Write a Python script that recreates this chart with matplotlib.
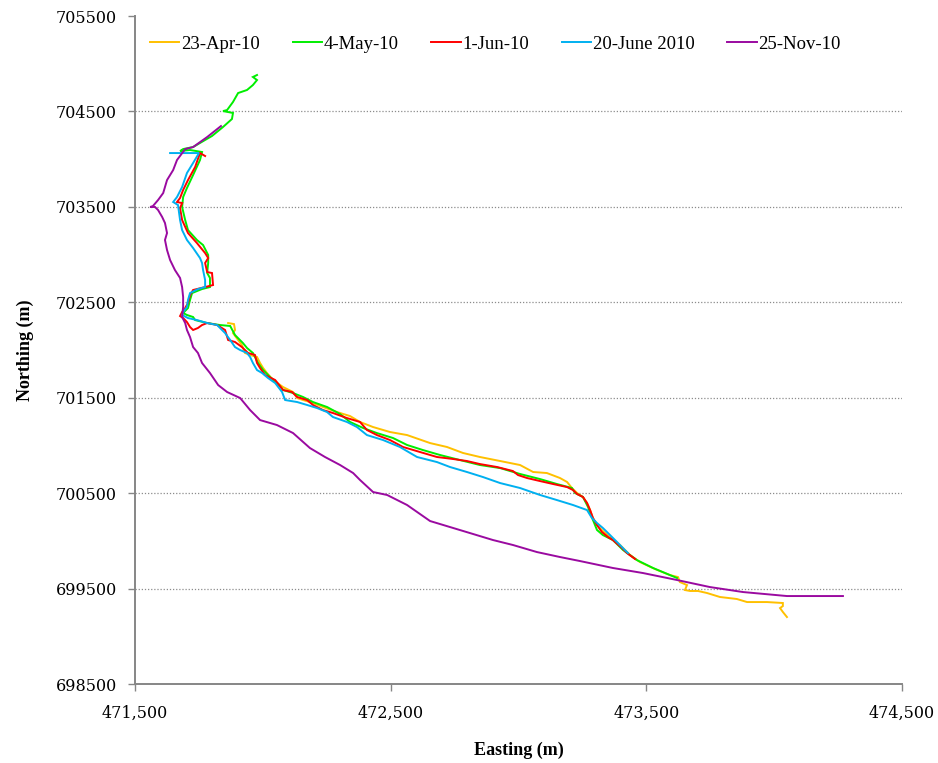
import matplotlib
matplotlib.use("Agg")
import matplotlib.pyplot as plt
from matplotlib.ticker import FuncFormatter, FixedLocator

# Shoreline positions (Easting, Northing in metres) for each survey date
labels = ["23-Apr-10", "4-May-10", "1-Jun-10", "20-June 2010", "25-Nov-10"]
colors = ["#FFC000", "#00EE00", "#FF0000", "#00B0F0", "#9A0AA0"]

apr_e = [471864, 471887, 471891, 471883, 471903, 471918, 471930, 471950, 471977, 471989,
         472001, 472016, 472040, 472079, 472118, 472134, 472157, 472196, 472235, 472290,
         472341, 472380, 472431, 472497, 472564, 472654, 472720, 472783, 472849, 472928,
         473006, 473057, 473111, 473162, 473190, 473209, 473229, 473252, 473268, 473280,
         473291, 473307, 473330, 473358, 473397, 473436, 473475, 473534, 473592, 473624,
         473631, 473659, 473651, 473671, 473702, 473737, 473788, 473854, 473894, 473944,
         473972, 474034, 474034, 474023, 474034, 474050]
apr_n = [702283, 702272, 702210, 702178, 702105, 702052, 701969, 701948, 701927, 701864,
         701811, 701759, 701686, 701612, 701560, 701497, 701476, 701445, 701403, 701350,
         701308, 701246, 701193, 701141, 701109, 701025, 700984, 700921, 700879, 700837,
         700795, 700722, 700711, 700659, 700617, 700554, 700502, 700460, 700397, 700323,
         700240, 700166, 700103, 700040, 699957, 699852, 699778, 699705, 699642, 699621,
         699569, 699537, 699485, 699475, 699475, 699454, 699412, 699391, 699359, 699359,
         699359, 699349, 699317, 699296, 699255, 699202]

may_e = [471977, 471961, 471977, 471961, 471938, 471903, 471883, 471860, 471844, 471883,
         471879, 471844, 471801, 471774, 471727, 471688, 471676, 471715, 471762, 471754,
         471727, 471703, 471688, 471684, 471696, 471707, 471742, 471766, 471786, 471786,
         471782, 471793, 471793, 471762, 471723, 471715, 471707, 471688, 471703, 471727,
         471735, 471782, 471832, 471872, 471891, 471922, 471938, 471961, 471981, 472001,
         472028, 472055, 472079, 472118, 472157, 472196, 472251, 472302, 472341, 472392,
         472446, 472509, 472564, 472626, 472693, 472771, 472849, 472928, 473006, 473084,
         473150, 473209, 473221, 473252, 473272, 473280, 473307, 473330, 473369, 473409,
         473463, 473526, 473620]
may_n = [704882, 704861, 704829, 704777, 704725, 704693, 704599, 704515, 704504, 704484,
         704421, 704337, 704243, 704201, 704127, 704106, 704085, 704096, 704075, 703991,
         703834, 703698, 703603, 703499, 703362, 703257, 703153, 703100, 702996, 702912,
         702807, 702755, 702660, 702639, 702597, 702524, 702440, 702388, 702367, 702346,
         702314, 702283, 702262, 702252, 702157, 702073, 702021, 701969, 701864, 701790,
         701717, 701654, 701581, 701549, 701508, 701455, 701403, 701329, 701246, 701183,
         701130, 701078, 701005, 700952, 700900, 700847, 700795, 700763, 700701, 700648,
         700596, 700554, 700502, 700460, 700355, 700292, 700114, 700061, 700009, 699904,
         699799, 699716, 699611]

jun_e = [471774, 471754, 471735, 471707, 471688, 471676, 471664, 471684, 471676, 471684,
         471707, 471742, 471774, 471786, 471774, 471782, 471801, 471805, 471774, 471727,
         471715, 471707, 471696, 471684, 471676, 471688, 471703, 471715, 471727, 471746,
         471762, 471782, 471821, 471852, 471864, 471891, 471918, 471942, 471969, 471977,
         471989, 472008, 472048, 472079, 472114, 472134, 472173, 472196, 472235, 472274,
         472329, 472380, 472407, 472446, 472497, 472548, 472615, 472681, 472744, 472798,
         472849, 472916, 472978, 472998, 473033, 473084, 473135, 473190, 473213, 473229,
         473252, 473268, 473280, 473291, 473307, 473326, 473350, 473369, 473405, 473424,
         473456]
jun_n = [704033, 704064, 703918, 703781, 703677, 703593, 703551, 703540, 703488, 703362,
         703226, 703121, 703016, 702964, 702912, 702817, 702807, 702681, 702660, 702629,
         702576, 702493, 702440, 702398, 702356, 702335, 702293, 702241, 702210, 702231,
         702262, 702283, 702262, 702210, 702105, 702084, 702031, 701969, 701948, 701864,
         701811, 701738, 701686, 701581, 701560, 701508, 701476, 701424, 701371, 701340,
         701287, 701246, 701162, 701109, 701057, 700984, 700931, 700879, 700858, 700837,
         700805, 700774, 700732, 700690, 700659, 700627, 700596, 700564, 700533, 700491,
         700460, 700397, 700323, 700240, 700166, 700093, 700040, 700009, 699925, 699873,
         699810]

june20_e = [471637, 471750, 471727, 471703, 471684, 471664, 471649, 471668, 471676, 471684,
            471703, 471727, 471754, 471762, 471766, 471774, 471774, 471746, 471715, 471707,
            471703, 471688, 471684, 471707, 471742, 471782, 471821, 471852, 471872, 471891,
            471911, 471938, 471950, 471961, 471977, 471997, 472020, 472048, 472075, 472087,
            472134, 472173, 472212, 472251, 472274, 472329, 472368, 472407, 472470, 472536,
            472603, 472681, 472732, 472798, 472861, 472928, 473006, 473084, 473150, 473213,
            473268, 473287, 473307, 473330, 473358, 473389, 473416, 473428]
june20_n = [704064, 704064, 703960, 703855, 703708, 703603, 703551, 703519, 703362, 703257,
            703153, 703069, 702964, 702912, 702838, 702733, 702660, 702639, 702597, 702524,
            702451, 702398, 702367, 702335, 702314, 702283, 702262, 702178, 702105, 702031,
            702000, 701969, 701927, 701864, 701790, 701759, 701707, 701654, 701560, 701476,
            701455, 701424, 701392, 701350, 701298, 701246, 701193, 701109, 701057, 700984,
            700879, 700826, 700774, 700722, 700669, 700606, 700554, 700481, 700428, 700376,
            700323, 700240, 700187, 700135, 700061, 699978, 699904, 699873]

nov_e = [471836, 471782, 471727, 471696, 471664, 471649, 471625, 471610, 471590, 471570,
         471559, 471578, 471590, 471606, 471617, 471625, 471617, 471625, 471637, 471656,
         471676, 471684, 471688, 471688, 471684, 471696, 471703, 471715, 471727, 471746,
         471762, 471793, 471825, 471860, 471911, 471950, 471989, 472055, 472118, 472184,
         472243, 472302, 472353, 472380, 472431, 472486, 472564, 472654, 472732, 472810,
         472900, 472978, 473072, 473162, 473240, 473369, 473487, 473620, 473749, 473878,
         474050, 474269]
nov_n = [704347, 704232, 704127, 704106, 703991, 703886, 703781, 703645, 703572, 703509,
         703499, 703499, 703467, 703394, 703331, 703226, 703153, 703048, 702943, 702838,
         702755, 702660, 702555, 702451, 702346, 702283, 702210, 702136, 702031, 701969,
         701864, 701759, 701633, 701560, 701497, 701371, 701266, 701214, 701130, 700973,
         700879, 700795, 700711, 700638, 700512, 700481, 700376, 700208, 700145, 700082,
         700009, 699957, 699883, 699831, 699789, 699716, 699663, 699590, 699516, 699464,
         699422, 699422]

series = [(apr_e, apr_n), (may_e, may_n), (jun_e, jun_n), (june20_e, june20_n), (nov_e, nov_n)]

x_ticks = [471500, 472500, 473500, 474500]
y_ticks = [698500, 699500, 700500, 701500, 702500, 703500, 704500, 705500]

fig = plt.figure(figsize=(9.38, 7.63), dpi=100)
ax = fig.add_axes([0.144, 0.1035, 0.8176, 0.8755])

for (e, n), lab, col in zip(series, labels, colors):
    ax.plot(e, n, color=col, lw=1.4, label=lab, solid_joinstyle="miter")

ax.set_xlim(x_ticks[0], x_ticks[-1])
ax.set_ylim(y_ticks[0], y_ticks[-1])
ax.xaxis.set_major_locator(FixedLocator(x_ticks))
ax.yaxis.set_major_locator(FixedLocator(y_ticks))
ax.xaxis.set_major_formatter(FuncFormatter(lambda v, p: f"{int(v):,}"))
ax.yaxis.set_major_formatter(FuncFormatter(lambda v, p: f"{int(v)}"))

# horizontal dotted grid at interior ticks only
for yv in y_ticks[1:-1]:
    ax.axhline(yv, color="#8c8c8c", lw=0.9, ls=(0, (1, 1.5)), zorder=0)

for s in ["top", "right"]:
    ax.spines[s].set_visible(False)
for s in ["left", "bottom"]:
    ax.spines[s].set_color("#868686")
    ax.spines[s].set_linewidth(1.4)

ax.tick_params(axis="both", direction="out", length=5, width=1.0, color="#868686",
               labelsize=11.5)
ax.tick_params(axis="y", pad=8)
ax.tick_params(axis="x", pad=10)
for t in ax.get_xticklabels() + ax.get_yticklabels():
    t.set_fontfamily("DejaVu Serif")

ax.set_xlabel("Easting (m)", fontfamily="Liberation Serif", fontweight="bold",
              fontsize=13, labelpad=14)
ax.set_ylabel("Northing (m)", fontfamily="Liberation Serif", fontweight="bold",
              fontsize=13, labelpad=16)

leg = ax.legend(loc="center", bbox_to_anchor=(0.47, 0.958), ncol=5, frameon=False,
                handlelength=1.55, handletextpad=0.1, columnspacing=1.75,
                prop={"family": "Liberation Serif", "size": 13.5})

fig.savefig("out.png", dpi=100)
